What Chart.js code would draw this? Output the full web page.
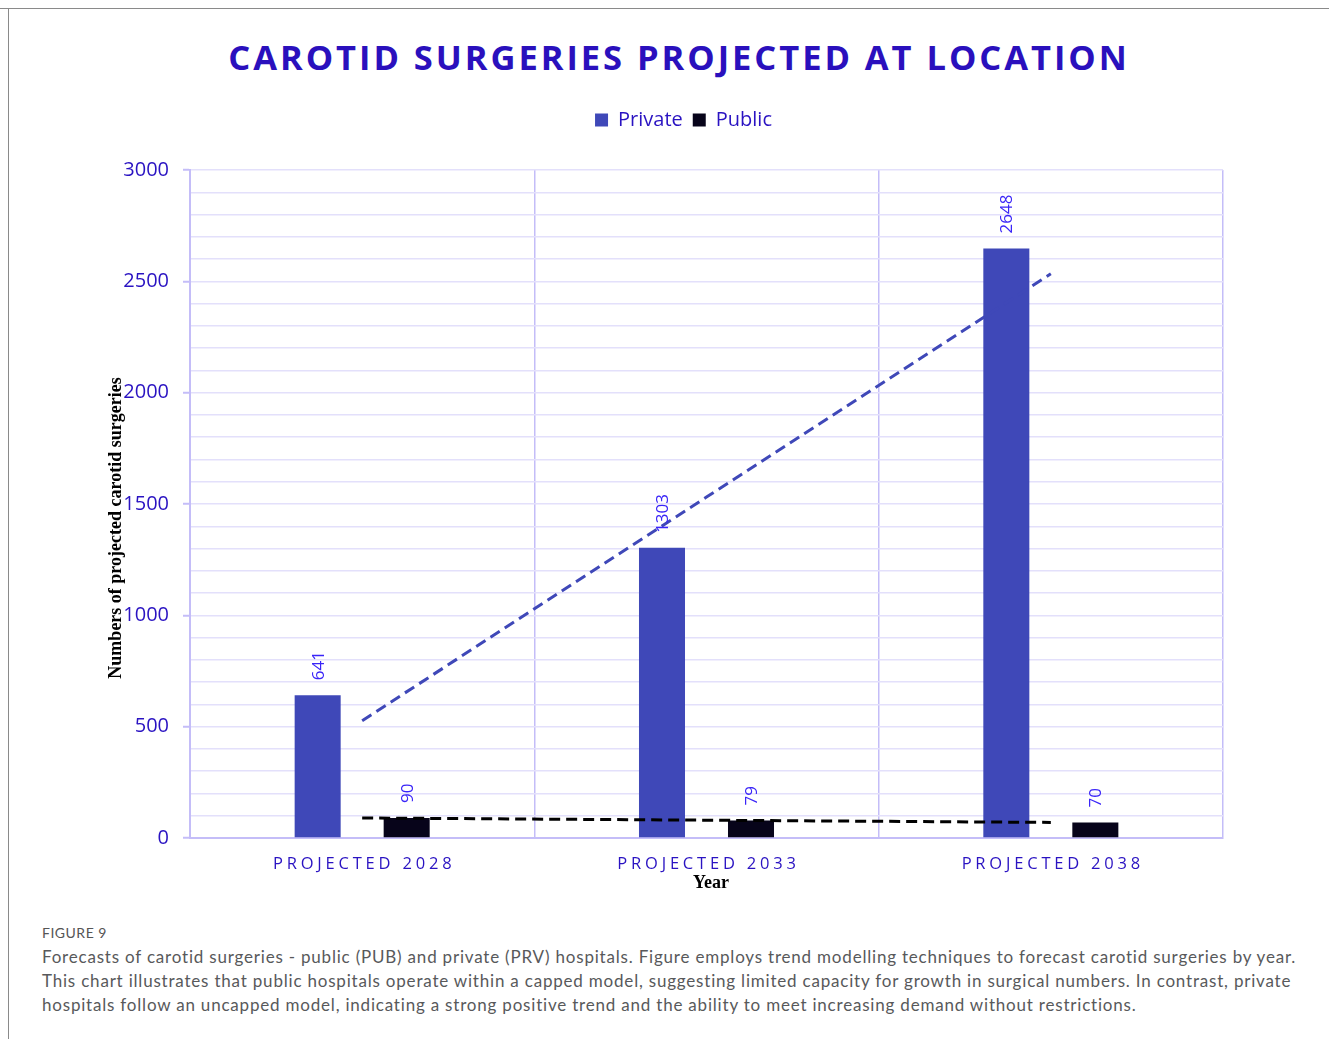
<!DOCTYPE html>
<html>
<head>
<meta charset="utf-8">
<script src="https://cdn.jsdelivr.net/npm/chart.js@4.4.1/dist/chart.umd.min.js"></script>
<style>
  html, body { margin: 0; padding: 0; background: #fff; }
  body { width: 1329px; height: 1039px; position: relative; overflow: hidden; }
  .frame-top { position: absolute; left: 0; top: 8px; width: 1329px; height: 1px; background: #8a8a8a; }
  .frame-left { position: absolute; left: 8px; top: 8px; width: 1px; height: 1031px; background: #8a8a8a; }
  #title {
    position: absolute; left: 0; top: 33px; width: 1358px; text-align: center;
    font-family: 'Open Sans', sans-serif; font-weight: 700; font-size: 34.5px;
    letter-spacing: 2.95px; color: #2a10bd; white-space: nowrap;
  }
  #wrap { position: absolute; left: 0; top: 0; width: 1329px; height: 900px; }
  .fig { position: absolute; left: 42px; top: 924px; font-family: Lato, sans-serif; font-size: 14px; letter-spacing: 0.5px; color: #555; }
  .caption {
    position: absolute; left: 42px; top: 945px; font-family: Lato, sans-serif; font-size: 17px;
    letter-spacing: 0.8px; line-height: 24px; color: #58595b; white-space: nowrap;
  }
</style>
</head>
<body>
<div class="frame-top"></div>
<div class="frame-left"></div>
<div id="title">CAROTID SURGERIES PROJECTED AT LOCATION</div>
<div id="wrap"><canvas id="chart"></canvas></div>
<div class="fig">FIGURE 9</div>
<div class="caption">Forecasts of carotid surgeries - public (PUB) and private (PRV) hospitals. Figure employs trend modelling techniques to forecast carotid surgeries by year.<br>This chart illustrates that public hospitals operate within a capped model, suggesting limited capacity for growth in surgical numbers. In contrast, private<br>hospitals follow an uncapped model, indicating a strong positive trend and the ability to meet increasing demand without restrictions.</div>
<script>
// Carotid surgeries projected
const years = ['PROJECTED 2028', 'PROJECTED 2033', 'PROJECTED 2038'];
const privateVals = [641, 1303, 2648];
const publicVals = [90, 79, 70];
const privateTrend = [527, 1531, 2534];
const publicTrend = [90, 80, 70];

const COLORS = {
    privateBar: '#3f48b8',
    publicBar: '#07041a',
    label: '#3a25f8',
    tick: '#2a13c2',
    axis: '#c4bdf8',
    grid: '#e3e0fb'
};

// Rotated value labels above the bars
const barLabels = {
    id: 'barLabels',
    afterDatasetsDraw(chart) {
        const ctx = chart.ctx;
        ctx.save();
        ctx.font = "17px 'Open Sans', sans-serif";
        ctx.fillStyle = COLORS.label;
        ctx.textAlign = 'left';
        ctx.textBaseline = 'middle';
        [0, 1].forEach(di => {
            chart.getDatasetMeta(di).data.forEach((bar, i) => {
                ctx.save();
                ctx.translate(bar.x + 1, bar.y - 15);
                ctx.rotate(-Math.PI / 2);
                ctx.fillText(String(chart.data.datasets[di].data[i]), 0, 0);
                ctx.restore();
            });
        });
        ctx.restore();
    }
};

// Letter-spaced category labels and axis titles
const axisText = {
    id: 'axisText',
    afterDraw(chart) {
        const ctx = chart.ctx;
        const xs = chart.scales.x;
        ctx.save();
        ctx.font = "16.5px 'Open Sans', sans-serif";
        ctx.fillStyle = COLORS.tick;
        ctx.textAlign = 'center';
        ctx.textBaseline = 'middle';
        ctx.letterSpacing = '3.8px';
        years.forEach((y, i) => ctx.fillText(y, xs.getPixelForValue(i) + 2, 864));
        ctx.letterSpacing = '0px';

        ctx.font = "bold 18px 'Liberation Serif', 'Times New Roman', serif";
        ctx.fillStyle = '#000';
        ctx.fillText('Year', 711, 883);
        ctx.translate(116, 528);
        ctx.rotate(-Math.PI / 2);
        ctx.fillText('Numbers of projected carotid surgeries', 0, 0);
        ctx.restore();
    }
};

const ctx = document.getElementById('chart').getContext('2d');
const chart = new Chart(ctx, {
    data: {
        labels: years,
        datasets: [
            { type: 'bar', label: 'Private', data: privateVals, backgroundColor: COLORS.privateBar, borderWidth: 0,
              categoryPercentage: 0.517, barPercentage: 0.517, order: 1 },
            { type: 'bar', label: 'Public', data: publicVals, backgroundColor: COLORS.publicBar, borderWidth: 0,
              categoryPercentage: 0.517, barPercentage: 0.517, order: 1 },
            { type: 'line', label: 'Private trend', data: privateTrend, borderColor: COLORS.privateBar, borderWidth: 3,
              borderDash: [11, 6], pointRadius: 0, fill: false, order: 0 },
            { type: 'line', label: 'Public trend', data: publicTrend, borderColor: '#000', borderWidth: 3,
              borderDash: [11, 6], pointRadius: 0, fill: false, order: 0 }
        ]
    },
    options: {
        responsive: true, maintainAspectRatio: false,
        animation: false,
        layout: { padding: { top: 60, right: 0, bottom: 62, left: 38 } },
        scales: {
            x: {
                offset: true,
                ticks: { display: false },
                grid: { offset: true, color: COLORS.axis, lineWidth: 1.5, drawTicks: false },
                border: { color: COLORS.axis, width: 2 }
            },
            y: {
                min: 0, max: 3000,
                afterFit: (s) => { s.width = 152; s.paddingTop = 170; s.paddingRight = 106; },
                ticks: {
                    stepSize: 100, autoSkip: false, padding: 14,
                    color: COLORS.tick,
                    font: { family: "'Open Sans', sans-serif", size: 20 },
                    callback: (v) => (v % 500 === 0 ? v : '')
                },
                grid: {
                    color: COLORS.grid, lineWidth: 1.5, tickLength: 7,
                    tickColor: (c) => (c.tick && c.tick.value % 500 === 0 ? COLORS.axis : 'rgba(0,0,0,0)'),
                    tickWidth: 2
                },
                border: { color: COLORS.axis, width: 2 }
            }
        },
        plugins: {
            // empty spacer box between legend and plot area
            title: { display: true, text: ' ', weight: 500, font: { size: 10 }, padding: { top: 9, bottom: 9 } },
            legend: {
                position: 'top',
                labels: {
                    filter: (item) => item.datasetIndex < 2,
                    boxWidth: 13, boxHeight: 13, padding: 10,
                    color: COLORS.tick,
                    font: { family: "'Open Sans', sans-serif", size: 20 }
                }
            },
            tooltip: { enabled: false }
        }
    },
    plugins: [barLabels, axisText]
});
</script>
</body>
</html>
